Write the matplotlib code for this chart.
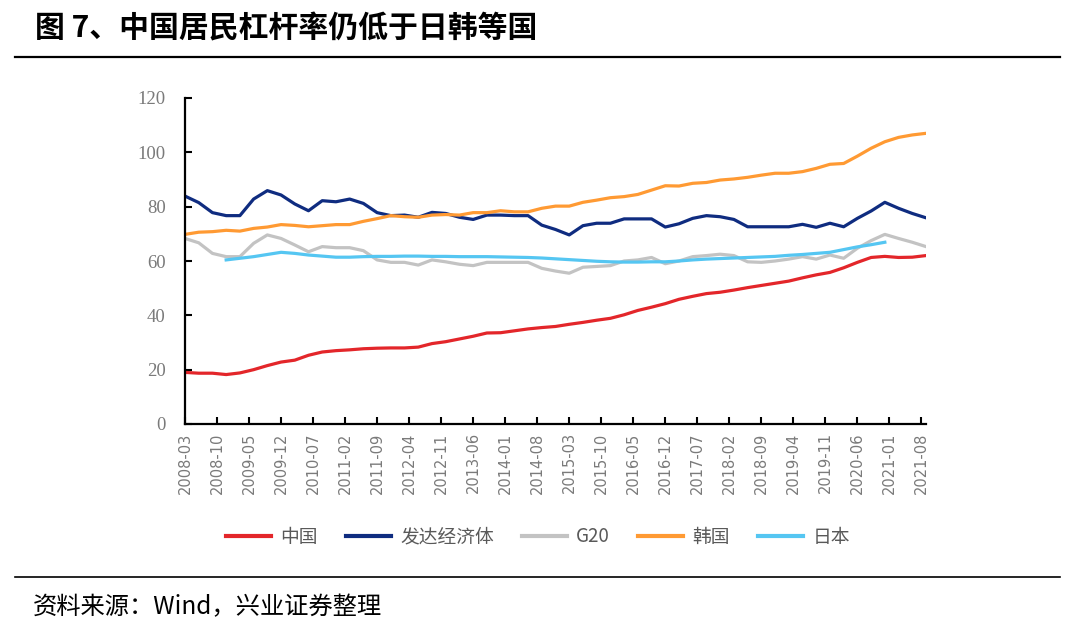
import numpy as np
import matplotlib
matplotlib.use("Agg")
import matplotlib.pyplot as plt
from matplotlib.lines import Line2D

plt.rcParams['font.family'] = ['Noto Sans CJK SC', 'DejaVu Sans']

# quarterly points, 2008-03 .. 2021-09 (month offsets from 2008-03)
months = np.arange(55) * 3

china = [19.0, 18.7, 18.7, 18.2, 18.8, 20.0, 21.5, 22.8, 23.5, 25.3,
         26.5, 27.0, 27.3, 27.7, 27.9, 28.0, 28.0, 28.3, 29.6, 30.3,
         31.3, 32.3, 33.5, 33.6, 34.3, 35.0, 35.5, 35.9, 36.7, 37.4,
         38.2, 38.9, 40.2, 41.8, 43.0, 44.3, 45.9, 47.0, 48.0, 48.5,
         49.3, 50.2, 51.0, 51.8, 52.6, 53.8, 54.9, 55.8, 57.5, 59.5,
         61.3, 61.7, 61.3, 61.4, 62.0]
developed = [83.9, 81.5, 77.8, 76.7, 76.7, 82.8, 85.9, 84.3, 81.0, 78.5,
             82.2, 81.8, 82.8, 81.2, 77.8, 76.7, 76.9, 76.1, 77.9, 77.5,
             76.1, 75.3, 76.9, 76.9, 76.7, 76.7, 73.2, 71.6, 69.6, 73.0,
             73.9, 73.9, 75.5, 75.5, 75.5, 72.5, 73.7, 75.7, 76.7, 76.3,
             75.3, 72.6, 72.6, 72.6, 72.6, 73.5, 72.4, 73.9, 72.6, 75.7,
             78.4, 81.6, 79.4, 77.5, 75.9]
g20 = [68.3, 66.7, 62.8, 61.6, 61.6, 66.5, 69.6, 68.3, 65.9, 63.4,
       65.3, 64.9, 64.9, 63.8, 60.4, 59.5, 59.5, 58.5, 60.4, 59.7,
       58.8, 58.3, 59.5, 59.5, 59.5, 59.5, 57.3, 56.3, 55.5, 57.7,
       58.0, 58.3, 60.0, 60.4, 61.3, 59.0, 60.0, 61.6, 62.0, 62.5,
       62.0, 59.7, 59.5, 60.0, 60.7, 61.6, 60.7, 62.2, 61.0, 64.7,
       67.5, 69.8, 68.3, 66.9, 65.3]
korea = [69.8, 70.6, 70.8, 71.3, 71.0, 72.0, 72.5, 73.4, 73.1, 72.6,
         73.0, 73.4, 73.4, 74.6, 75.6, 76.7, 76.3, 76.1, 76.9, 77.1,
         76.9, 77.8, 77.8, 78.5, 78.1, 78.1, 79.4, 80.2, 80.2, 81.6,
         82.4, 83.3, 83.7, 84.5, 86.1, 87.7, 87.6, 88.6, 88.9, 89.8,
         90.2, 90.8, 91.6, 92.3, 92.3, 92.9, 94.1, 95.6, 95.9, 98.6,
         101.5, 103.9, 105.5, 106.4, 107.0]
# Japan: 2008-12 .. 2020-12
japan = [np.nan] * 3 + [
    60.4, 61.0, 61.6, 62.4, 63.2, 62.8, 62.2, 61.8, 61.4, 61.4,
    61.6, 61.7, 61.7, 61.8, 61.8, 61.7, 61.7, 61.6, 61.6, 61.6,
    61.5, 61.4, 61.3, 61.1, 60.8, 60.5, 60.2, 59.9, 59.7, 59.6,
    59.6, 59.7, 59.7, 60.0, 60.4, 60.7, 60.9, 61.1, 61.3, 61.5,
    61.7, 62.1, 62.4, 62.8, 63.2, 64.2, 65.2, 66.0, 66.9] + [np.nan] * 3

tick_labels = ['2008-03', '2008-10', '2009-05', '2009-12', '2010-07', '2011-02',
               '2011-09', '2012-04', '2012-11', '2013-06', '2014-01', '2014-08',
               '2015-03', '2015-10', '2016-05', '2016-12', '2017-07', '2018-02',
               '2018-09', '2019-04', '2019-11', '2020-06', '2021-01', '2021-08']
tick_pos = np.arange(len(tick_labels)) * 7

series = [('中国', china, '#E3262A'),
          ('发达经济体', developed, '#0F2C80'),
          ('G20', g20, '#C3C3C3'),
          ('韩国', korea, '#FF9A33'),
          ('日本', japan, '#55C6F2')]

fig = plt.figure(figsize=(10.8, 6.26), dpi=100)
ax = fig.add_axes([185 / 1080, 1 - 424 / 626, (926 - 185) / 1080, (424 - 98) / 626])

for name, vals, col in series:
    ax.plot(months, vals, color=col, lw=2.3, label=name, solid_joinstyle='round')

ax.set_xlim(0, 162)
ax.set_ylim(0, 120)
ax.set_yticks(range(0, 121, 20))
ax.set_xticks(tick_pos)
ax.set_xticklabels(tick_labels, rotation=90, fontsize=10.5, color='#7a7a7a',
                   family='DejaVu Sans')
for lab in ax.get_yticklabels():
    lab.set_family('Liberation Serif')
ax.tick_params(axis='y', direction='in', length=5, width=1.5, labelsize=13.5,
               labelcolor='#7a7a7a', pad=14)
ax.tick_params(axis='x', direction='in', length=5, width=1.5, pad=6)
for s in ['top', 'right']:
    ax.spines[s].set_visible(False)
for s in ['left', 'bottom']:
    ax.spines[s].set_linewidth(1.6)
    ax.spines[s].set_color('black')

leg = fig.legend(loc='center', bbox_to_anchor=(0.498, 1 - 537 / 626), ncol=5,
                 frameon=False, fontsize=13.5, handlelength=2.4, handletextpad=0.5,
                 columnspacing=1.5)
for t in leg.get_texts():
    t.set_color('#595959')
for h in leg.get_lines():
    h.set_linewidth(3)

fig.text(35 / 1080, 1 - 28 / 626, '图 7、中国居民杠杆率仍低于日韩等国', fontsize=21.5,
         fontweight='bold', va='center', ha='left')
fig.add_artist(Line2D([15 / 1080, 1060 / 1080], [1 - 57 / 626] * 2, color='black', lw=1.6))
fig.add_artist(Line2D([15 / 1080, 1060 / 1080], [1 - 577 / 626] * 2, color='black', lw=1.2))
fig.text(33 / 1080, 1 - 607 / 626, '资料来源：Wind，兴业证券整理', fontsize=17.5,
         va='center', ha='left')

fig.savefig('out.png', dpi=100)
